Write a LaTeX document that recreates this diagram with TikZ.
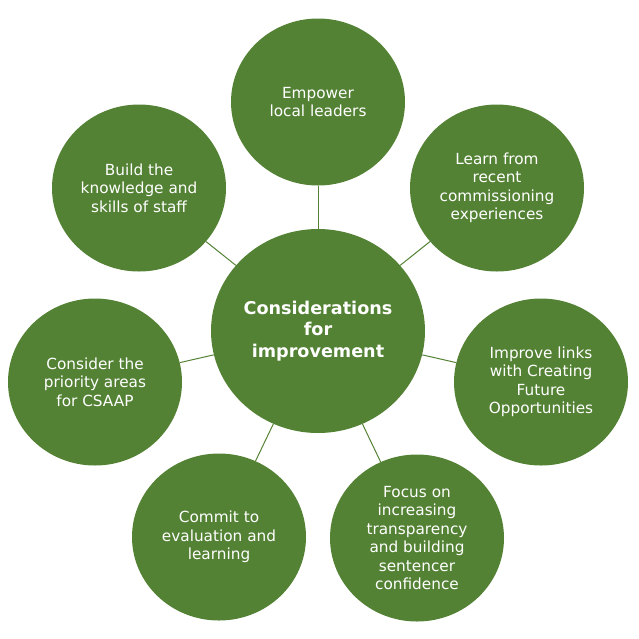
\documentclass[tikz,border=0pt]{standalone}
\usepackage{fontspec}
\setmainfont{DejaVu Sans}
\usepackage{xcolor}
\usepackage{tikz}
\usetikzlibrary{shapes.geometric}
\definecolor{leafgreen}{RGB}{84,130,53}

\begin{document}
\begin{tikzpicture}[x = 1pt, y = -1pt]
        \tikzstyle{every node} = [ellipse, fill=leafgreen, text=white, inner sep = 0pt, align = center, minimum width = 174pt, minimum height = 167pt, font = \fontsize{15.3}{18.5}\selectfont]
        \tikzstyle{link} = [draw=leafgreen, line width = 1pt]
        \useasboundingbox (0, 0) rectangle (639, 638);

        \node(Considerations)[minimum width = 214pt, minimum height = 204pt, font = \fontsize{17.6}{21.7}\selectfont\bfseries] at (318, 331) {Considerations\\for\\improvement};

        \node(Empower) at (318, 102) {Empower\\local leaders};
        \node(Learn) at (497, 188) {Learn from\\recent\\commissioning\\experiences};
        \node(Improve) at (541, 382) {Improve links\\with Creating\\Future\\Opportunities};
        \node(Focus) at (417, 538) {Focus on\\increasing\\transparency\\and building\\sentencer\\confidence};
        \node(Commit) at (219, 537) {Commit to\\evaluation and\\learning};
        \node(Consider) at (95, 382) {Consider the\\priority areas\\for CSAAP};
        \node(Build) at (139, 188) {Build the\\knowledge and\\skills of staff};

        \draw [link] (Considerations) -- (Empower);
        \draw [link] (Considerations) -- (Learn);
        \draw [link] (Considerations) -- (Improve);
        \draw [link] (Considerations) -- (Focus);
        \draw [link] (Considerations) -- (Commit);
        \draw [link] (Considerations) -- (Consider);
        \draw [link] (Considerations) -- (Build);

    \end{tikzpicture}
\end{document}
